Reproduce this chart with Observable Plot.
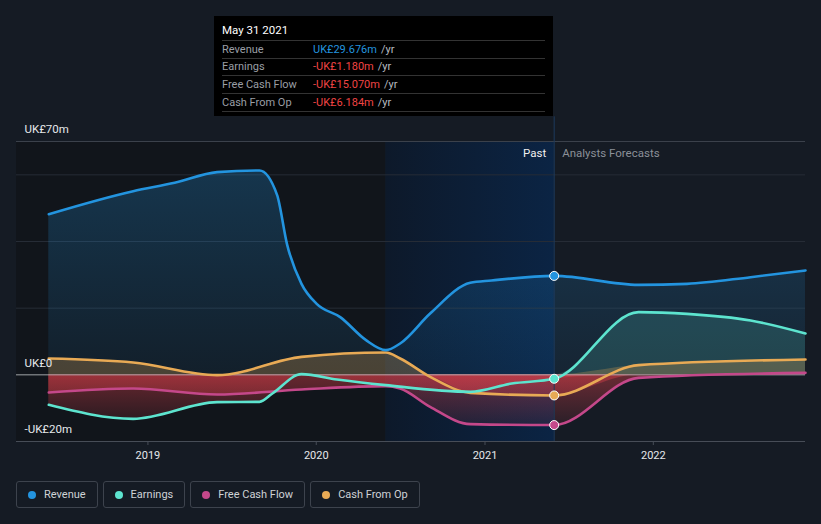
<!DOCTYPE html>
<html>
<head>
<meta charset="utf-8">
<script src="https://cdn.jsdelivr.net/npm/d3@7"></script>
<script src="https://cdn.jsdelivr.net/npm/@observablehq/plot@0.6"></script>
<style>
  body { margin: 0; background: #151b24; }
  #wrap { position: relative; width: 821px; height: 524px; overflow: hidden; font-family: Roboto, "Noto Sans", sans-serif; background: #151b24; }
  #chart { position: absolute; left: 0; top: 0; }
  #tip { position: absolute; left: 214px; top: 16px; width: 339px; height: 100px; background: #000; box-sizing: border-box; padding: 0 8px; color: #fff; font-size: 11px; }
  #tip .title { height: 24px; line-height: 29px; font-size: 11.5px; color: #fff; border-bottom: 1px solid #333; }
  #tip .row { height: 16px; line-height: 16px; border-bottom: 1px solid #333; display: flex; padding-top: 0.7px; }
  #tip .lab { width: 91px; color: #9a9ea5; }
  #tip .unit { color: #b8bbc0; margin-left: 4px; }
  #legend { position: absolute; left: 16px; top: 481px; display: flex; gap: 5px; }
  .item { height: 27px; border: 1px solid #3d434d; border-radius: 3px; box-sizing: border-box; display: flex; align-items: center; padding: 0 11px 0 11px; color: #cfd2d6; font-size: 11px; }
  .dot { width: 8px; height: 8px; border-radius: 50%; margin-right: 8px; }
</style>
</head>
<body>
<div id="wrap">
  <div id="chart"></div>
  <div id="tip"></div>
  <div id="legend"></div>
</div>
<script>
// ---- data (UK£m) ----
const seriesNames = ["Revenue", "Earnings", "Free Cash Flow", "Cash From Op"];
const seriesColors = ["#2394df", "#5de4cf", "#c4488a", "#e8aa55"];

const revenueDates = ["2018-05-31","2018-11-30","2019-02-28","2019-05-31","2019-08-31","2019-10-08","2019-10-30","2019-11-30","2020-01-02","2020-02-22","2020-04-18","2020-05-31","2020-07-01","2020-09-04","2020-11-30","2021-01-15","2021-05-31","2021-11-30","2022-03-15","2022-07-31","2022-11-27"];
const revenueValues = [48.2, 55.1, 57.6, 60.8, 61.3, 54.0, 39.0, 27.3, 21.3, 17.3, 10.4, 7.4, 9.4, 18.4, 27.6, 28.3, 29.676, 27.0, 27.3, 29.3, 31.3];

const earningsDates = ["2018-05-31","2018-11-30","2019-05-31","2019-08-31","2019-09-28","2019-11-30","2020-02-15","2020-05-31","2020-11-30","2021-02-28","2021-05-31","2021-11-30","2022-03-15","2022-07-31","2022-11-27"];
const earningsValues = [-9.0, -13.2, -8.2, -8.1, -5.6, 0.2, -1.4, -3.1, -5.1, -2.6, -1.18, 18.8, 18.3, 16.3, 12.4];

const fcfDates = ["2018-05-31","2018-11-30","2019-05-31","2019-11-30","2020-05-31","2020-07-01","2020-09-04","2020-11-30","2021-05-31","2021-11-30","2022-11-27"];
const fcfValues = [-5.3, -4.1, -5.9, -4.4, -3.4, -4.1, -9.6, -14.8, -15.07, -0.9, 0.6];

const cfoDates = ["2018-05-31","2018-11-30","2019-05-31","2019-11-30","2020-05-31","2020-07-01","2020-09-04","2020-11-30","2021-05-31","2021-11-30","2022-11-27"];
const cfoValues = [4.9, 3.7, -0.1, 5.4, 6.7, 4.9, -0.6, -5.4, -6.184, 2.9, 4.6];

const yearTicks = ["2019-01-01","2020-01-01","2021-01-01","2022-01-01"];
const yTickValues = [70, 0, -20];
const yTickLabels = ["UK£70m", "UK£0", "-UK£20m"];
const gridValues = [20, 40, 60];

const xDomain = ["2018-03-22", "2022-11-27"];
const pastStart = "2020-05-31";
const nowDate = "2021-05-31";

const tooltipTitle = "May 31 2021";
const tooltipLabels = ["Revenue", "Earnings", "Free Cash Flow", "Cash From Op"];
const tooltipValues = ["UK£29.676m", "-UK£1.180m", "-UK£15.070m", "-UK£6.184m"];

// ---- build ----
const parse = d3.utcParse("%Y-%m-%d");
function mk(dates, values, name) {
  return dates.map((d, i) => ({date: parse(d), value: values[i], name}));
}
const rev = mk(revenueDates, revenueValues, "Revenue");
const ear = mk(earningsDates, earningsValues, "Earnings");
const fcf = mk(fcfDates, fcfValues, "Free Cash Flow");
const cfo = mk(cfoDates, cfoValues, "Cash From Op");
const all = [rev, ear, fcf, cfo];
const now = parse(nowDate);
const nowPts = all.map(s => s.find(d => +d.date === +now));

const curve = "monotone-x";
const W = 821, H = 470;

const marks = [];
// background regions
marks.push(Plot.rect([{x1: parse(xDomain[0]), x2: parse(pastStart)}], {x1: "x1", x2: "x2", y1: -20, y2: 70, fill: "#11151b"}));
marks.push(Plot.rect([{x1: parse(pastStart), x2: now}], {x1: "x1", x2: "x2", y1: -20, y2: 70, fill: "url(#pastGrad)"}));
// grid
marks.push(Plot.ruleY(gridValues, {stroke: "#262c36", strokeWidth: 1}));
marks.push(Plot.ruleY([70], {stroke: "#3b414b", strokeWidth: 1}));
// areas
const posFill = ["url(#revGrad)", "#5de4cf", "#c4488a", "#e8aa55"];
const posOpacity = [1, 0.17, 0.16, 0.26];
all.forEach((s, i) => {
  marks.push(Plot.areaY(s, {x: "date", y1: 0, y2: d => Math.max(0, d.value), curve, fill: posFill[i], fillOpacity: posOpacity[i]}));
  marks.push(Plot.areaY(s, {x: "date", y1: 0, y2: d => Math.min(0, d.value), curve, fill: "url(#negGrad)"}));
});
// zero & axis lines
marks.push(Plot.ruleY([0], {stroke: "#b9bcc0", strokeWidth: 1, strokeOpacity: 0.85}));
marks.push(Plot.ruleY([-20], {stroke: "#474d57", strokeWidth: 1}));
// now line
marks.push(Plot.ruleX([now], {y1: -20, y2: 77.4, stroke: "#1d3a5e", strokeWidth: 1}));
// lines
[cfo, fcf, ear, rev].forEach((s) => {
  const i = seriesNames.indexOf(s[0].name);
  marks.push(Plot.line(s, {x: "date", y: "value", curve, stroke: seriesColors[i], strokeWidth: 2.6}));
});
// now points
marks.push(Plot.dot(nowPts, {x: "date", y: "value", r: 4.5, fill: d => seriesColors[seriesNames.indexOf(d.name)], stroke: "#ffffff", strokeWidth: 1}));
// y labels
marks.push(Plot.text(yTickValues, {y: d => d, text: (d, i) => yTickLabels[i], frameAnchor: "left", dx: 8, dy: -12, textAnchor: "start", fill: "#e6e8eb", fontSize: 11.5}));
// Past / Forecast labels
marks.push(Plot.text([now], {x: d => d, y: 66.5, text: ["Past"], textAnchor: "end", dx: -8, fill: "#f0f0f0", fontSize: 11.5}));
marks.push(Plot.text([now], {x: d => d, y: 66.5, text: ["Analysts Forecasts"], textAnchor: "start", dx: 8, fill: "#8b9098", fontSize: 11.5}));

const plot = Plot.plot({
  width: W,
  height: H,
  marginLeft: 16,
  marginRight: 16,
  marginTop: 141,
  marginBottom: 29,
  style: {background: "transparent", color: "#e6e8eb", fontFamily: "Roboto, 'Noto Sans', sans-serif", fontSize: "11px"},
  x: {type: "utc", domain: xDomain.map(parse), ticks: yearTicks.map(parse), tickFormat: d3.utcFormat("%Y"), tickSize: 4, tickPadding: 6, label: null},
  y: {domain: [-20, 70], axis: null},
  marks
});

// gradients
const svg = d3.select(plot);
const defs = svg.insert("defs", ":first-child");
const pg = defs.append("linearGradient").attr("id", "pastGrad").attr("x1", 0).attr("x2", 1).attr("y1", 0).attr("y2", 0);
pg.append("stop").attr("offset", "0%").attr("stop-color", "#0d192a");
pg.append("stop").attr("offset", "100%").attr("stop-color", "#0b2444");
const rg = defs.append("linearGradient").attr("id", "revGrad").attr("gradientUnits", "userSpaceOnUse").attr("x1", 0).attr("x2", 0).attr("y1", 141).attr("y2", 375);
rg.append("stop").attr("offset", "0%").attr("stop-color", "#2394df").attr("stop-opacity", 0.28);
rg.append("stop").attr("offset", "100%").attr("stop-color", "#2394df").attr("stop-opacity", 0.08);
const ng = defs.append("linearGradient").attr("id", "negGrad").attr("gradientUnits", "userSpaceOnUse").attr("x1", 0).attr("x2", 0).attr("y1", 375).attr("y2", 430);
ng.append("stop").attr("offset", "0%").attr("stop-color", "#e0404a").attr("stop-opacity", 0.42);
ng.append("stop").attr("offset", "100%").attr("stop-color", "#e0404a").attr("stop-opacity", 0.07);

svg.selectAll('g[aria-label="x-axis tick"] path').attr("stroke", "#474d57");
svg.selectAll('g[aria-label="x-axis tick"]').attr("stroke", "#474d57");

document.getElementById("chart").appendChild(plot);

// tooltip
const tip = document.getElementById("tip");
let html = `<div class="title">${tooltipTitle}</div>`;
tooltipLabels.forEach((l, i) => {
  const col = tooltipValues[i].startsWith("-") ? "#ef4444" : "#2394df";
  html += `<div class="row"><span class="lab">${l}</span><span style="color:${col}">${tooltipValues[i]}</span><span class="unit">/yr</span></div>`;
});
tip.innerHTML = html;

// legend
const legend = document.getElementById("legend");
seriesNames.forEach((n, i) => {
  const it = document.createElement("div");
  it.className = "item";
  it.innerHTML = `<span class="dot" style="background:${seriesColors[i]}"></span>${n}`;
  legend.appendChild(it);
});
</script>
</body>
</html>
